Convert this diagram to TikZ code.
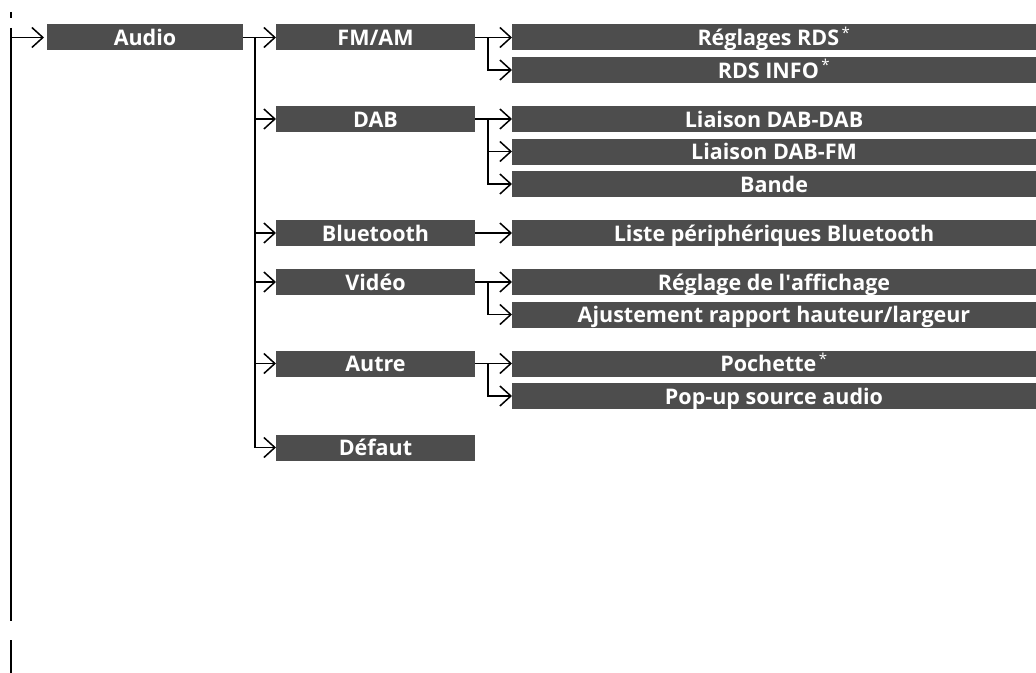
\documentclass[tikz,border=0pt]{standalone}
\usepackage{fontspec}
\setmainfont{Open Sans}
\usepackage{tikz}
\usetikzlibrary{positioning, arrows.meta}
\definecolor{menugray}{HTML}{4D4D4D}
\newcommand{\starnote}{\textsuperscript{\mdseries\,*}}
\newcommand{\straightquote}{\XeTeXglyph\XeTeXcharglyph"0027\relax}

\begin{document}
\begin{tikzpicture}[x=1bp, y=-1bp, node distance=6.5bp and 37bp]
    % Define styles
    \tikzstyle{menu} = [rectangle, fill=menugray, text=white, font=\fontsize{21.5bp}{23bp}\selectfont\bfseries, minimum height=26bp, inner sep=0pt, outer sep=0pt, text height=16.5bp, text depth=0pt]
    \tikzstyle{main} = [menu, minimum width=196bp]
    \tikzstyle{sub} = [menu, minimum width=199bp]
    \tikzstyle{leaf} = [menu, minimum width=524bp]
    \tikzstyle{arrow} = [-{Straight Barb[length=11bp, width=20bp]}, line width=1.5bp]
    \tikzstyle{rail} = [line width=1.5bp]

    \useasboundingbox (0,0) rectangle (1036,673);

    % Nodes
    \node[main, anchor=north west] (audio) at (47,24.5) {Audio};
    \node[sub, right=33bp of audio] (fmam) {FM/AM};
    \node[leaf, right=of fmam] (rdsset) {Réglages RDS\starnote};
    \node[leaf, below=of rdsset] (rdsinfo) {RDS INFO\starnote};
    \node[leaf, below=23bp of rdsinfo] (dabdab) {Liaison DAB-DAB};
    \node[leaf, below=of dabdab] (dabfm) {Liaison DAB-FM};
    \node[leaf, below=of dabfm] (band) {Bande};
    \node[leaf, below=23bp of band] (btlist) {Liste périphériques Bluetooth};
    \node[leaf, below=23bp of btlist] (display) {Réglage de l\straightquote affichage};
    \node[leaf, below=of display] (ratio) {Ajustement rapport hauteur/largeur};
    \node[leaf, below=23bp of ratio] (pocket) {Pochette\starnote};
    \node[leaf, below=of pocket] (popup) {Pop-up source audio};
    \node[sub, left=of dabdab] (dab) {DAB};
    \node[sub, left=of btlist] (bt) {Bluetooth};
    \node[sub, left=of display] (video) {Vidéo};
    \node[sub, left=of pocket] (other) {Autre};
    \node[sub, below=58bp of other] (reset) {Défaut};

    % Page rail
    \coordinate (railtop) at (11,28);
    \coordinate (railend) at (11,621);
    \coordinate (marktop) at (11,12);
    \coordinate (markend) at (11,18);
    \coordinate (cuttop) at (11,640);
    \coordinate (cutend) at (11,673);
    \draw[rail] (railtop) -- (railend);
    \draw[rail] (marktop) -- (markend);
    \draw[rail] (cuttop) -- (cutend);

    % Connections
    \draw[arrow, shorten >=3bp] (railtop |- audio.west) -- (audio.west);
    \draw[arrow] (audio) -- (fmam);
    \coordinate (split) at ([xshift=12bp]audio.east);
    \draw[arrow] (split) |- (reset.west);
    \foreach \n in {dab, bt, video, other}
        \draw[arrow] (split |- \n.west) -- (\n.west);
    \foreach \p/\c in {fmam/rdsset, dab/dabdab, bt/btlist, video/display, other/pocket}
        \draw[arrow] (\p) -- (\c);
    \foreach \p/\c in {fmam/rdsinfo, dab/dabfm, dab/band, video/ratio, other/popup}
        \draw[arrow] ([xshift=13bp]\p.east) |- (\c.west);
\end{tikzpicture}
\end{document}
